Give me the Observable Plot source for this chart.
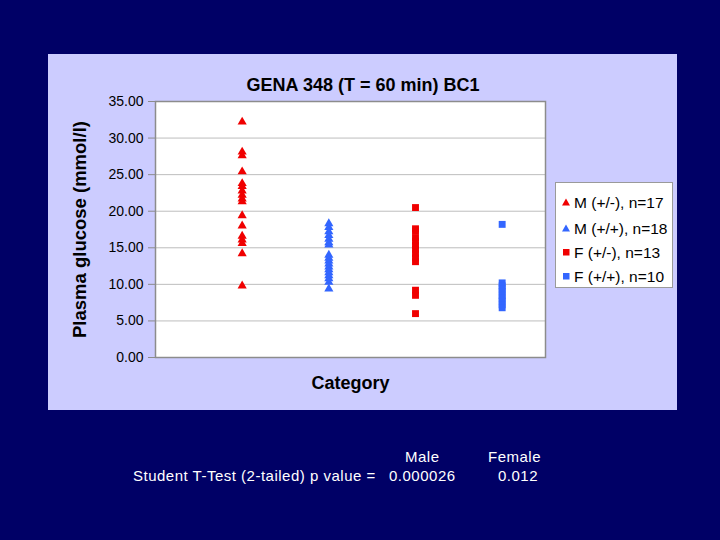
<!DOCTYPE html>
<html><head><meta charset="utf-8">
<script src="https://cdn.jsdelivr.net/npm/d3@7"></script>
<script src="https://cdn.jsdelivr.net/npm/@observablehq/plot@0.6"></script>
<style>
html,body{margin:0;padding:0;background:#000066;width:720px;height:540px;overflow:hidden;font-family:Arial,"Liberation Sans",sans-serif;}
#page{position:relative;width:720px;height:540px;}
#chart{position:absolute;left:48px;top:54px;width:629px;height:356px;background:#ccccff;}
#chart > svg{display:block;}
#legend{position:absolute;left:507px;top:128px;width:118px;height:106px;background:#fff;border:1px solid #9a9a9a;box-sizing:border-box;}
.li{position:absolute;left:6px;height:20px;line-height:20px;font-size:15.5px;color:#000;white-space:nowrap;}
.li svg{display:inline-block !important;vertical-align:middle;margin-right:3px;margin-top:-3px;}
.note{position:absolute;color:#fff;font-size:15px;letter-spacing:0.5px;white-space:pre;line-height:18px;}
</style>
</head><body><div id="page"><div id="chart"></div></div>
<script>
const titleText = "GENA 348 (T = 60 min) BC1";
const yLabel = "Plasma glucose (mmol/l)";
const xLabel = "Category";
const categories = ["M (+/-), n=17", "M (+/+), n=18", "F (+/-), n=13", "F (+/+), n=10"];
const colors = ["#f00000", "#3366ff", "#f00000", "#3366ff"];
const symbols = ["triangle", "triangle", "square", "square"];
const mPlusMinus = [32.2, 28.1, 27.6, 25.4, 23.8, 23.4, 22.8, 22.2, 21.7, 21.3, 19.4, 18.0, 16.6, 16.1, 15.6, 14.2, 9.8];
const mPlusPlus = [18.3, 17.8, 17.2, 16.7, 16.2, 15.7, 15.4, 14.0, 13.6, 13.2, 12.8, 12.4, 12.0, 11.6, 11.2, 10.8, 10.3, 9.4];
const fPlusMinus = [20.5, 17.6, 17.3, 16.4, 15.9, 15.3, 14.8, 14.2, 13.6, 13.1, 9.2, 8.5, 6.0];
const fPlusPlus = [18.2, 10.2, 9.8, 9.4, 9.0, 8.5, 8.1, 7.7, 7.2, 6.8];
const yTicks = [0, 5, 10, 15, 20, 25, 30, 35];
const noteRow1 = ["Male", "Female"];
const noteRow2 = ["Student T-Test (2-tailed) p value =", "0.000026", "0.012"];

const series = [mPlusMinus, mPlusPlus, fPlusMinus, fPlusPlus];
const data = [];
series.forEach((arr, i) => arr.forEach(v => data.push({cat: categories[i], x: i + 1, y: v, sym: symbols[i]})));
const fmt = d3.format(".2f");

const plot = Plot.plot({
  width: 629, height: 356,
  marginLeft: 107, marginRight: 132, marginTop: 47, marginBottom: 53,
  style: {background: "transparent", fontFamily: "Arial, 'Liberation Sans', sans-serif", fontSize: "14px", color: "#000"},
  x: {domain: [0, 4.5], axis: null},
  y: {domain: [0, 35], label: null},
  color: {domain: categories, range: colors},
  symbol: {domain: categories, range: symbols},
  marks: [
    Plot.frame({fill: "#fff", stroke: "none"}),
    Plot.gridY(yTicks, {stroke: "#bdbdbd", strokeOpacity: 1, strokeWidth: 1}),
    Plot.frame({stroke: "#8c8c8c", strokeWidth: 1.5}),
    Plot.axisY({ticks: yTicks, text: null, tickSize: 7, stroke: "#8c8c8c", label: null}),
    Plot.axisY({ticks: yTicks, tickSize: 0, tickPadding: 12, tickFormat: fmt, fill: "#000", fontSize: 14, label: null}),
    Plot.dot(data.filter(d => d.sym === "triangle"), {x: "x", y: "y", symbol: "cat", fill: "cat", r: 3.4}),
    Plot.dot(data.filter(d => d.sym === "square"), {x: "x", y: "y", symbol: "cat", fill: "cat", r: 3.9}),
    Plot.text([titleText], {frameAnchor: "top", dx: 12.5, dy: -23, fontSize: 18, fontWeight: "bold", fill: "#000"}),
    Plot.text([xLabel], {frameAnchor: "bottom", dy: 31, fontSize: 18, fontWeight: "bold", fill: "#000"}),
    Plot.text([yLabel], {frameAnchor: "left", textAnchor: "middle", dx: -75, rotate: -90, fontSize: 18.5, fontWeight: "bold", fill: "#000"})
  ]
});
document.getElementById("chart").appendChild(plot);

// legend
const legend = document.createElement("div");
legend.id = "legend";
const rowTops = [10, 36, 60, 84];
categories.forEach((c, i) => {
  const row = document.createElement("div");
  row.className = "li";
  row.style.top = rowTops[i] + "px";
  const shape = symbols[i] === "triangle"
    ? `<polygon points="4,0.5 8,7.5 0,7.5" fill="${colors[i]}"/>`
    : `<rect x="1" y="1" width="6.5" height="6.5" fill="${colors[i]}"/>`;
  row.innerHTML = `<svg width="9" height="9" viewBox="0 0 9 9">${shape}</svg>${c}`;
  legend.appendChild(row);
});
document.getElementById("chart").appendChild(legend);

// notes below chart
const page = document.getElementById("page");
function note(text, left, top) {
  const s = document.createElement("div");
  s.className = "note";
  s.textContent = text;
  s.style.left = left + "px";
  s.style.top = top + "px";
  page.appendChild(s);
}
note(noteRow1[0], 405, 448);
note(noteRow1[1], 488, 448);
note(noteRow2[0], 133, 467);
note(noteRow2[1], 389, 467);
note(noteRow2[2], 498, 467);
</script>
</body></html>
